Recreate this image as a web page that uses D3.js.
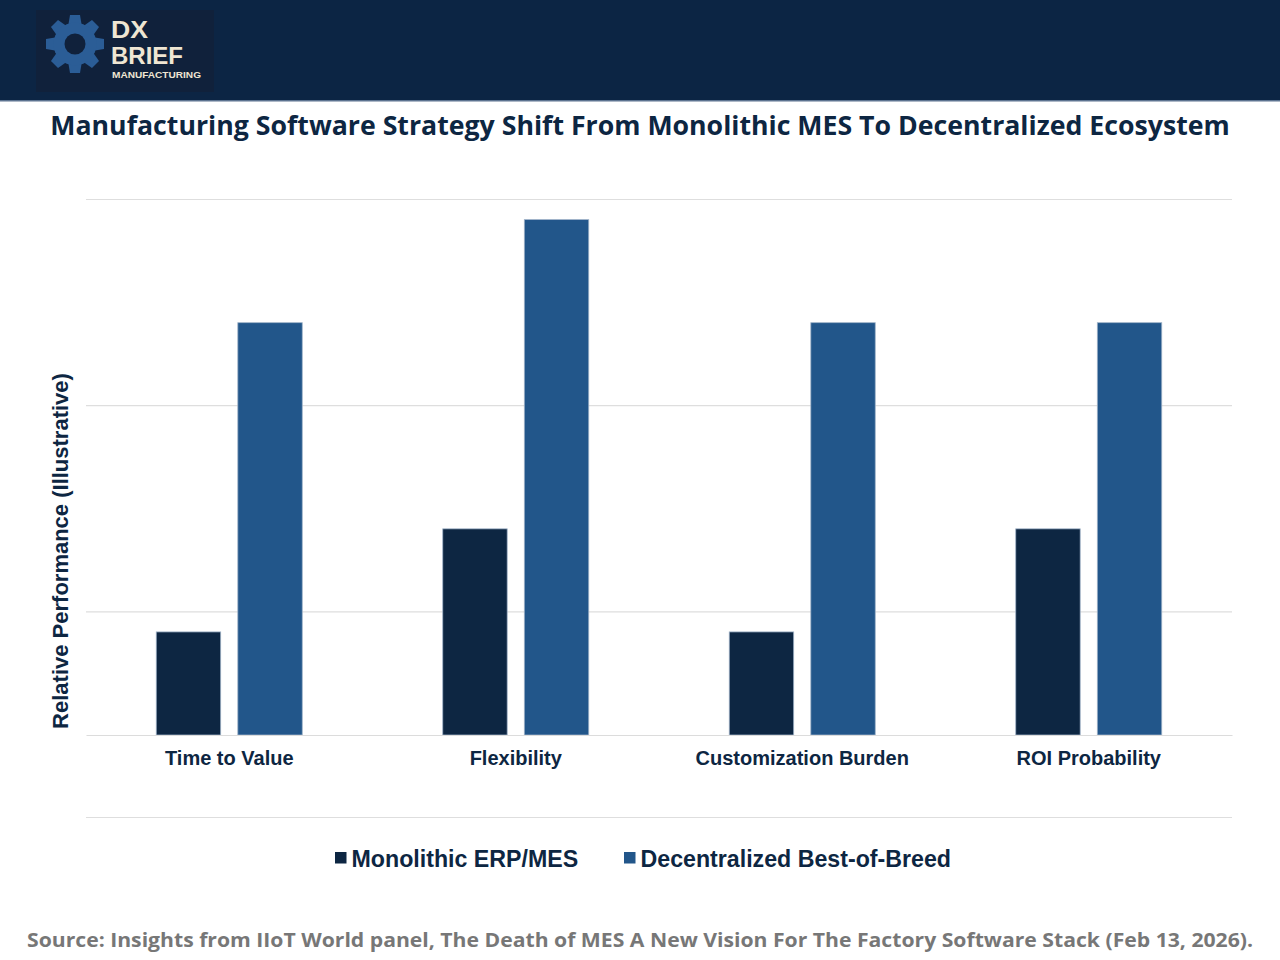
<!DOCTYPE html>
<html>
<head>
<meta charset="utf-8">
<script src="https://cdn.jsdelivr.net/npm/d3@7"></script>
<style>
  html, body { margin: 0; padding: 0; background: #ffffff; }
  svg { display: block; }
</style>
</head>
<body>
<script>
const categories = ["Time to Value", "Flexibility", "Customization Burden", "ROI Probability"];
const seriesNames = ["Monolithic ERP/MES", "Decentralized Best-of-Breed"];
const monolithicValues = [1, 2, 1, 2];
const decentralizedValues = [4, 5, 4, 4];
const gridValues = [1.2, 3.2, 5.2];
const titleText = "Manufacturing Software Strategy Shift From Monolithic MES To Decentralized Ecosystem";
const yAxisLabel = "Relative Performance (Illustrative)";
const sourceText = "Source: Insights from IIoT World panel, The Death of MES A New Vision For The Factory Software Stack (Feb 13, 2026).";
const logoLines = ["DX", "BRIEF", "MANUFACTURING"];

const W = 1280, H = 960;
const navy = "#0d2642", blue = "#22568a";
const colors = [navy, blue];

const svg = d3.select("body").append("svg").attr("width", W).attr("height", H);

// Header band
svg.append("rect").attr("x", 0).attr("y", 0).attr("width", W).attr("height", 100).attr("fill", "#0c2544");
svg.append("rect").attr("x", 0).attr("y", 100).attr("width", W).attr("height", 1.5).attr("fill", "#5d7390");

// Logo
const logo = svg.append("g");
logo.append("rect").attr("x", 36).attr("y", 10).attr("width", 178).attr("height", 82).attr("fill", "#10213b");
const gear = logo.append("g").attr("transform", "translate(75,44)");
const gearColor = "#2b5d96";
d3.range(8).forEach(i => {
  gear.append("path").attr("d", "M-5,-29 L5,-29 L7,-17 L-7,-17 Z")
    .attr("fill", gearColor).attr("transform", `rotate(${i * 45})`);
});
gear.append("circle").attr("r", 21.5).attr("fill", gearColor);
gear.append("circle").attr("r", 10.5).attr("fill", "#10213b");
const logoFont = "'Liberation Sans', Arial, sans-serif";
const logoG = logo.append("g").attr("fill", "#efe6d3").attr("font-family", logoFont).attr("font-weight", 700);
logoG.append("text").attr("x", 111).attr("y", 37.5).attr("font-size", 23).attr("textLength", 37).attr("lengthAdjust", "spacingAndGlyphs").text(logoLines[0]);
logoG.append("text").attr("x", 111).attr("y", 63.5).attr("font-size", 23).attr("textLength", 72).attr("lengthAdjust", "spacingAndGlyphs").text(logoLines[1]);
logoG.append("text").attr("x", 112).attr("y", 77.5).attr("font-size", 9.5).attr("textLength", 89).attr("lengthAdjust", "spacingAndGlyphs").text(logoLines[2]);

// Title
svg.append("text").attr("x", 640).attr("y", 134.5).attr("text-anchor", "middle")
  .attr("font-family", "'Open Sans', sans-serif").attr("font-weight", 700).attr("font-size", 26.7)
  .attr("fill", navy).text(titleText);

// Scales
const x0 = d3.scaleBand().domain(categories).range([86, 1232]).paddingInner(0).paddingOuter(0);
const groupW = 146;
const x1 = d3.scaleBand().domain(seriesNames)
  .range([(x0.bandwidth() - groupW) / 2, (x0.bandwidth() + groupW) / 2])
  .paddingInner(0.21).paddingOuter(0);
const y = d3.scaleLinear().domain([0, 5.2]).range([735, 199]);

// Gridlines
const grid = svg.append("g").attr("transform", "translate(86,0)")
  .call(d3.axisLeft(y).tickValues(gridValues).tickSize(-1146).tickFormat(""));
grid.select(".domain").remove();
grid.selectAll(".tick line").attr("stroke", "#dedede").attr("stroke-width", 1.2);

// Bars
const data = categories.map((c, i) => ({ cat: c, vals: [monolithicValues[i], decentralizedValues[i]] }));
const groups = svg.append("g").selectAll("g").data(data).join("g")
  .attr("transform", d => `translate(${x0(d.cat)},0)`);
groups.selectAll("rect").data(d => d.vals.map((v, j) => ({ v, s: seriesNames[j], j }))).join("rect")
  .attr("x", d => x1(d.s))
  .attr("y", d => y(d.v))
  .attr("width", x1.bandwidth())
  .attr("height", d => y(0) - y(d.v))
  .attr("fill", d => colors[d.j])
  .attr("stroke", "#9fb2c8").attr("stroke-width", 0.8);

// X axis
const xAxis = svg.append("g").attr("transform", "translate(0,735)")
  .call(d3.axisBottom(x0).tickSize(0).tickPadding(16));
xAxis.select(".domain").attr("stroke", "#dcdcdc").attr("stroke-width", 1.2);
xAxis.selectAll("text").attr("font-family", "'Liberation Sans', Arial, sans-serif")
  .attr("font-weight", 700).attr("font-size", 20).attr("fill", navy);

// Separator line below plot
svg.append("line").attr("x1", 86).attr("x2", 1232).attr("y1", 817.5).attr("y2", 817.5)
  .attr("stroke", "#dedede").attr("stroke-width", 1.2);

// Y-axis label
svg.append("text").attr("transform", "translate(68,551) rotate(-90)").attr("text-anchor", "middle")
  .attr("font-family", "'Liberation Sans', Arial, sans-serif").attr("font-weight", 700).attr("font-size", 22)
  .attr("fill", navy).text(yAxisLabel);

// Legend
const legendX = [335, 624];
const legend = svg.append("g");
seriesNames.forEach((s, i) => {
  legend.append("rect").attr("x", legendX[i]).attr("y", 852).attr("width", 11.5).attr("height", 11.5).attr("fill", colors[i]);
  legend.append("text").attr("x", legendX[i] + 16.5).attr("y", 866.5)
    .attr("font-family", "'Liberation Sans', Arial, sans-serif").attr("font-weight", 700).attr("font-size", 23.2)
    .attr("fill", navy).text(s);
});

// Source
svg.append("text").attr("x", 27).attr("y", 947)
  .attr("font-family", "'Open Sans', sans-serif").attr("font-weight", 700).attr("font-size", 20)
  .attr("textLength", 1226).attr("lengthAdjust", "spacingAndGlyphs")
  .attr("fill", "#777777").text(sourceText);
</script>
</body>
</html>
